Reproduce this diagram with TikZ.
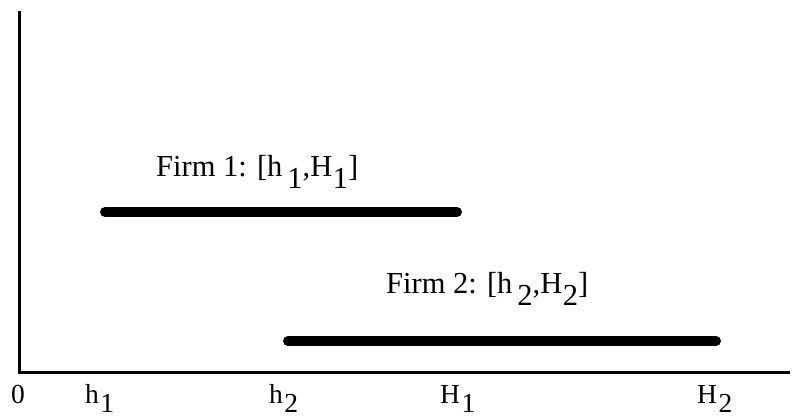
\documentclass[tikz,border=0pt]{standalone}
\usepackage{fontspec}
\setmainfont{Liberation Serif}
\newcommand{\lowsub}[1]{\kern1.5pt\raisebox{-9pt}{#1}}
\newcommand{\lowsubb}[1]{\kern5pt\raisebox{-12pt}{#1}}
\newcommand{\lowsubc}[1]{\kern0.5pt\raisebox{-12pt}{#1}}
\begin{document}
\begin{tikzpicture}[x=1pt,y=-1pt,
  axisline/.style={line width=3pt},
  barline/.style={line width=10pt,line cap=round},
  lbl/.style={inner sep=0pt,anchor=base west,font=\fontsize{27.5}{32}\selectfont},
  firmlbl/.style={inner sep=0pt,anchor=base west,font=\fontsize{30.5}{36}\selectfont}]
\useasboundingbox (0,0) rectangle (799,418);
\coordinate (top) at (19,11);
\coordinate (origin) at (19,372);
\coordinate (right) at (790,372);
\draw[axisline] (top) -- (origin) -- (right);
\coordinate (b1s) at (105,212);
\coordinate (b1e) at (457,212);
\coordinate (b2s) at (288,341);
\coordinate (b2e) at (716,341);
\draw[barline] (b1s) -- (b1e);
\draw[barline] (b2s) -- (b2e);
\node[firmlbl] (f1) at (156,176) {Firm 1: [h\lowsubb{1},H\lowsubc{1}]};
\node[firmlbl] (f2) at (386,293) {Firm 2: [h\lowsubb{2},H\lowsubc{2}]};
\node[lbl,anchor=base] (zero) at (18,403) {0};
\node[lbl] (h1) at (85,403) {h\lowsub{1}};
\node[lbl] (h2) at (269,403) {h\lowsub{2}};
\node[lbl] (H1) at (440,403) {H\lowsub{1}};
\node[lbl] (H2) at (697,403) {H\lowsub{2}};
\end{tikzpicture}
\end{document}
